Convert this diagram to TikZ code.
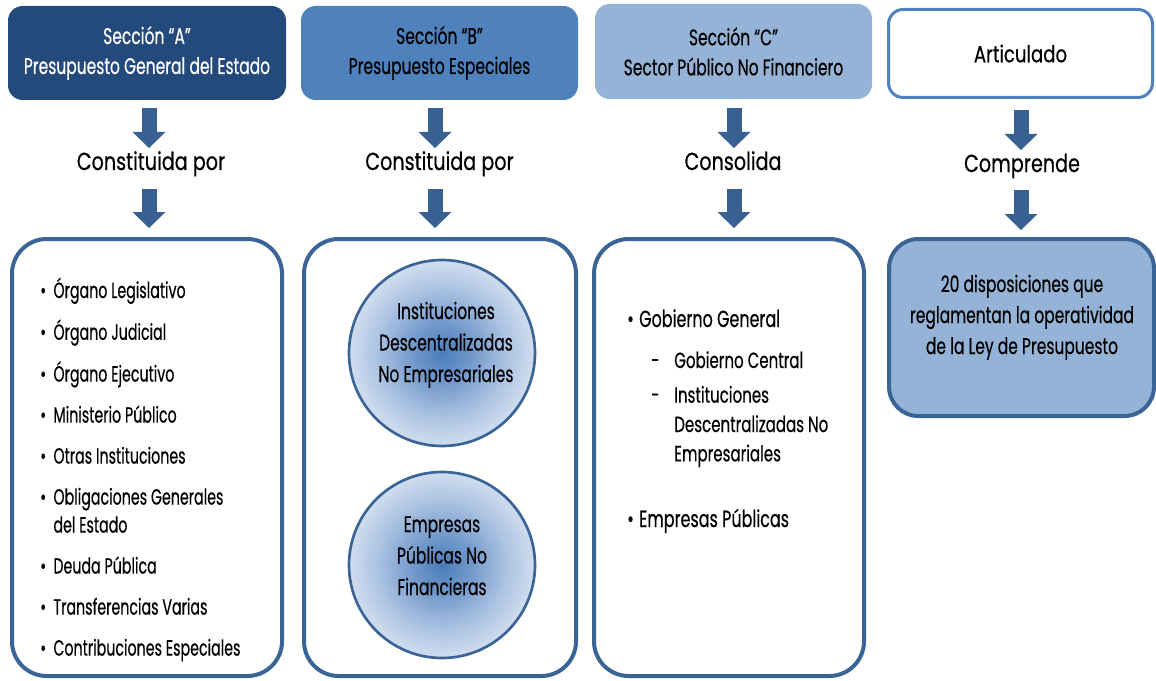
\documentclass[tikz,border=0pt]{standalone}
\usepackage{fontspec}
\setmainfont[FakeStretch=0.684,FakeBold=0.4]{Poppins}
\newfontfamily\fLbl[FakeStretch=0.777,FakeBold=0.4]{Poppins}
\newfontfamily\fList[FakeStretch=0.647,FakeBold=0.4]{Poppins}
\usetikzlibrary{arrows.meta}
\definecolor{boxA}{HTML}{244A7C}
\definecolor{boxB}{HTML}{4F81BD}
\definecolor{boxC}{HTML}{95B3D7}
\definecolor{arr}{HTML}{386192}
\definecolor{edge}{HTML}{3B6496}
\definecolor{c0}{HTML}{4A7CBB}
\definecolor{c1}{HTML}{7399CB}
\definecolor{c2}{HTML}{A9C1E1}
\definecolor{c3}{HTML}{D6E1F1}
\definecolor{c4}{HTML}{E2E9F4}
\pgfdeclareradialshading{circshade}{\pgfpoint{0bp}{0bp}}{color(0bp)=(c0); color(8bp)=(c1); color(17bp)=(c2); color(26bp)=(c3); color(32bp)=(c4); color(50bp)=(c4)}
\begin{document}
\begin{tikzpicture}[x=0.75pt,y=-0.75pt,
  topbox/.style={rounded corners=11pt, inner sep=0pt, align=center, minimum height=70.5pt, font=\fontsize{17}{22.5}\selectfont},
  bigbox/.style={draw=edge, line width=3pt, rounded corners=26pt, fill=white, inner sep=0pt, minimum height=327.75pt},
  midlbl/.style={font=\fLbl\fontsize{18.5}{22}\selectfont, inner sep=0pt, anchor=base},
  blockarrow/.style={draw=arr, line width=11.25pt, -{Triangle[width=24.75pt,length=12pt,line width=0pt]}},
  listtxt/.style={font=\fList\fontsize{16.5}{21}\selectfont, inner sep=0pt, align=left},
  circ/.style={circle, draw=edge, line width=2pt, shading=circshade, minimum size=139.5pt, inner sep=0pt},
  circtxt/.style={font=\fontsize{17}{23.6}\selectfont, inner sep=0pt, align=center, anchor=base}
]
\useasboundingbox (0,0) rectangle (1156,681);

% top boxes
\node[topbox, fill=boxA, text=white, minimum width=208.5pt] (tA) at (147,53) {Sección “A”\\Presupuesto General del Estado};
\node[topbox, fill=boxB, minimum width=207.75pt] (tB) at (439.5,53) {Sección “B”\\Presupuesto Especiales};
\node[topbox, fill=boxC, minimum width=207.75pt, minimum height=71.25pt] (tC) at (733.5,51.5) {Sección “C”\\Sector Público No Financiero};
\node[topbox, draw=boxB, line width=2.25pt, fill=white, minimum width=198pt, minimum height=66pt, font=\fLbl\fontsize{17.5}{22}\selectfont] (tD) at (1020.5,53.5) {Articulado};

% middle labels
\node[midlbl] (lA) at (151,170) {Constituida por};
\node[midlbl] (lB) at (439.5,170) {Constituida por};
\node[midlbl] (lC) at (733,170) {Consolida};
\node[midlbl] (lD) at (1022,172) {Comprende};

% bottom boxes
\node[bigbox, minimum width=202.5pt] (bA) at (147,457.5) {};
\node[bigbox, minimum width=204pt] (bB) at (440,457.5) {};
\node[bigbox, minimum width=202.5pt] (bC) at (729,457.5) {};
\node[bigbox, fill=boxC, rounded corners=22pt, minimum width=198.75pt, minimum height=132.75pt] (bD) at (1021.5,327.5) {};

% arrows
\coordinate (a1A) at (149,108); \coordinate (a2A) at (149,148);
\coordinate (a3A) at (149,189); \coordinate (a4A) at (149,228);
\coordinate (a1B) at (435,108); \coordinate (a2B) at (435,148);
\coordinate (a3B) at (435,189); \coordinate (a4B) at (435,228);
\coordinate (a1C) at (734,108); \coordinate (a2C) at (734,148);
\coordinate (a3C) at (734,189); \coordinate (a4C) at (734,228);
\coordinate (a1D) at (1021,110); \coordinate (a2D) at (1021,150);
\coordinate (a3D) at (1021,190); \coordinate (a4D) at (1021,230);
\foreach \c in {A,B,C,D}{
  \draw[blockarrow] (a1\c) -- (a2\c);
  \draw[blockarrow] (a3\c) -- (a4\c);
}

% list A
\node[listtxt, anchor=base west] (listA) at (40,298) {%
\begin{tabular}[t]{@{}l@{\hspace{5.5pt}}l@{}}
• & Órgano Legislativo\\[9.75pt]
• & Órgano Judicial\\[9.75pt]
• & Órgano Ejecutivo\\[9.75pt]
• & Ministerio Público\\[9.75pt]
• & Otras Instituciones\\[9.75pt]
• & Obligaciones Generales\\
  & del Estado\\[9.75pt]
• & Deuda Pública\\[9.75pt]
• & Transferencias Varias\\[9.75pt]
• & Contribuciones Especiales
\end{tabular}};

% circles in B
\node[circ] (cB1) at (442,353) {};
\node[circ] (cB2) at (442,565) {};
\node[circtxt] (tB1) at (446,382) {Instituciones\\Descentralizadas\\No Empresariales};
\node[circtxt] (tB2) at (442,595) {Empresas\\Públicas No\\Financieras};

% list C
\node[listtxt, anchor=base west, font=\fontsize{17.5}{21}\selectfont] (cG) at (627,327) {•\hspace{4pt}Gobierno General};
\node[listtxt, anchor=base west, font=\fontsize{16.5}{22}\selectfont] (cS) at (651,368) {%
\begin{tabular}[t]{@{}p{17.25pt}@{}l@{}}
- & Gobierno Central\\[4pt]
- & Instituciones\\
  & Descentralizadas No\\
  & Empresariales
\end{tabular}};
\node[listtxt, anchor=base west, font=\fontsize{17.5}{21}\selectfont] (cE) at (627,527) {•\hspace{4pt}Empresas Públicas};

% D text
\node[circtxt, font=\fontsize{17}{23.25}\selectfont] (tDx) at (1022,354) {20 disposiciones que\\reglamentan la operatividad\\de la Ley de Presupuesto};
\end{tikzpicture}
\end{document}
